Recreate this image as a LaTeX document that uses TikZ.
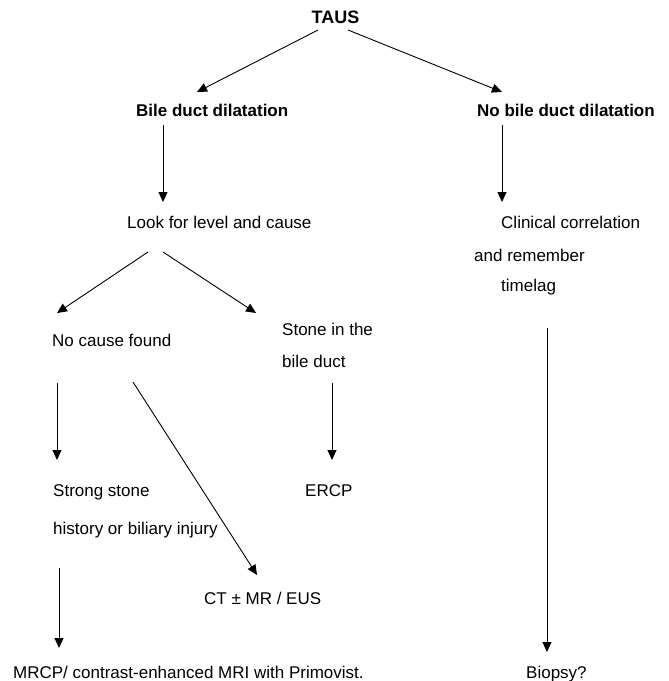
\documentclass[tikz,border=0pt]{standalone}
\usepackage{fontspec}
\setmainfont{Liberation Sans}
\usetikzlibrary{arrows.meta,calc}
\begin{document}
\begin{tikzpicture}[x=1pt,y=-1pt,
  txt/.style={inner sep=0pt,anchor=west,text height=12pt,text depth=0pt,font=\fontsize{17}{20}\selectfont},
  btxt/.style={txt,font=\fontsize{17}{20}\selectfont\bfseries},
  arr/.style={draw=black,line width=0.9pt,-{Triangle[width=9pt,length=10pt]}}]
\useasboundingbox (0,0) rectangle (669,681);
\fill[white] (0,0) rectangle (669,681);
% nodes
\node[btxt,anchor=center,font=\fontsize{18}{20}\selectfont\bfseries] (taus) at (335.5,17) {TAUS};
\node[btxt] (bile) at (136,110) {Bile duct dilatation};
\node[btxt] (nobile) at (477,110) {No bile duct dilatation};
\node[txt] (look) at (127,222) {Look for level and cause};
\node[txt] (clin1) at (501,222) {Clinical correlation};
\node[txt] (clin2) at (474,255) {and remember};
\node[txt] (clin3) at (501,285) {timelag};
\node[txt] (nocause) at (52,340) {No cause found};
\node[txt] (stone1) at (282,329) {Stone in the};
\node[txt] (stone2) at (282,361) {bile duct};
\node[txt] (strong1) at (53,490) {Strong stone};
\node[txt] (strong2) at (53,528) {history or biliary injury};
\node[txt] (ercp) at (305,490) {ERCP};
\node[txt] (ct) at (204,598) {CT ± MR / EUS};
\node[txt] (mrcp) at (13,672) {MRCP/ contrast-enhanced MRI with Primovist.};
\node[txt] (biopsy) at (526,672) {Biopsy?};
% connectors
\draw[arr] ($(taus)+(-17.5,13)$) -- ($(bile.west)+(61,-18)$);
\draw[arr] ($(taus)+(12.5,13)$) -- ($(nobile.west)+(25,-18)$);
\draw[arr] ($(bile.west)+(27,15)$) -- ($(look.west)+(36,-20)$);
\draw[arr] ($(nobile.west)+(25,15)$) -- ($(clin1.west)+(1,-20)$);
\draw[arr] ($(look.west)+(21,30)$) -- ($(nocause.west)+(5,-27)$);
\draw[arr] ($(look.west)+(36,30)$) -- ($(stone1.west)+(-26,-16)$);
\draw[arr] ($(nocause.west)+(5,43)$) -- ($(strong1.west)+(4,-30)$);
\draw[arr] ($(nocause.west)+(81,42)$) -- ($(ct.west)+(53,-23)$);
\draw[arr] ($(stone2.west)+(50,22)$) -- ($(ercp.west)+(27,-30)$);
\draw[arr] ($(strong2.west)+(6,40)$) -- ($(mrcp.west)+(46,-24)$);
\draw[arr] ($(clin3.west)+(46,43)$) -- ($(biopsy.west)+(21,-20)$);
\end{tikzpicture}
\end{document}
